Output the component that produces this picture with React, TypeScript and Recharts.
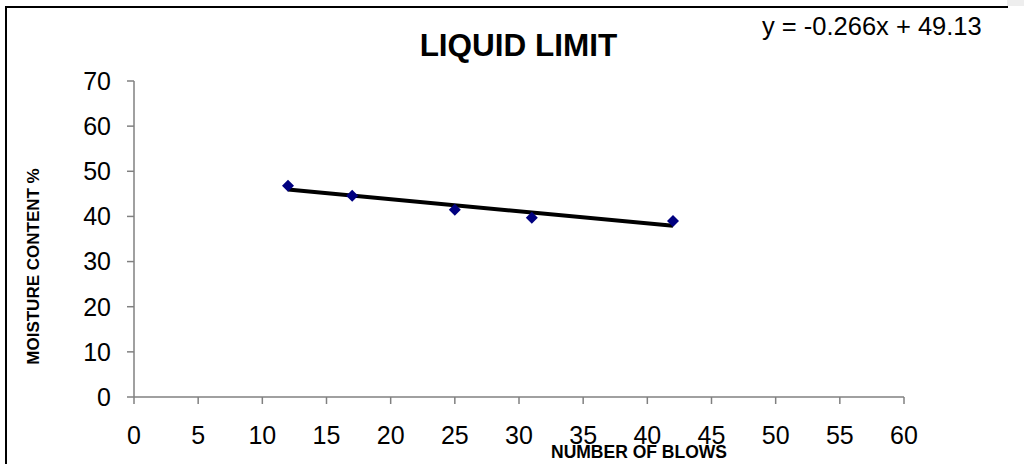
import { ComposedChart, Line, Scatter, XAxis, YAxis } from "recharts";

// Liquid limit test: moisture content against number of blows, with the
// linear trend line Excel fitted (y = -0.266x + 49.13).

const BLOWS = [12, 17, 25, 31, 42];
const MOISTURE = [46.8, 44.6, 41.5, 39.7, 39.0];

const TREND_BLOWS = [12, 42];
const TREND_MOISTURE = [45.94, 37.96];

const X_TICKS = [0, 5, 10, 15, 20, 25, 30, 35, 40, 45, 50, 55, 60];
const Y_TICKS = [0, 10, 20, 30, 40, 50, 60, 70];

const FONT = "'Liberation Sans', Arial, sans-serif";
const AXIS = "#808080";
const MARKER = "#000080";

const points = BLOWS.map((x, i) => ({ x, y: MOISTURE[i] }));
const trend = TREND_BLOWS.map((x, i) => ({ x, y: TREND_MOISTURE[i] }));

function Diamond(props: { cx?: number; cy?: number }) {
  const { cx, cy } = props;
  if (cx == null || cy == null) return null;
  const r = 6;
  return (
    <polygon
      points={`${cx},${cy - r} ${cx + r},${cy} ${cx},${cy + r} ${cx - r},${cy}`}
      fill={MARKER}
    />
  );
}

export default function App() {
  const tick = { fill: "#000", fontSize: 25, fontFamily: FONT };
  return (
    <div style={{ position: "absolute", left: 0, top: 0, width: 1024, height: 464, background: "#fff", overflow: "hidden" }}>
      {/* chart frame: only the top and left edges fall inside the crop */}
      <div
        style={{
          position: "absolute",
          left: 5,
          top: 6,
          width: 1001,
          height: 470,
          borderTop: "2px solid #000",
          borderLeft: "2px solid #000",
        }}
      />
      <div style={{ position: "absolute", left: 1007, top: 0, width: 17, height: 6, background: "#eeeeee" }} />

      <div style={{ position: "absolute", left: 0, top: 0 }}>
        <ComposedChart
          width={1024}
          height={464}
          margin={{ top: 81, right: 120, bottom: 27, left: 74 }}
          style={{ fontFamily: FONT }}
        >
          <XAxis
            type="number"
            dataKey="x"
            domain={[0, 60]}
            ticks={X_TICKS}
            interval={0}
            height={40}
            tickSize={7}
            tickMargin={22}
            tick={tick}
            stroke={AXIS}
            strokeWidth={1.5}
            allowDataOverflow
          />
          <YAxis
            type="number"
            dataKey="y"
            domain={[0, 70]}
            ticks={Y_TICKS}
            interval={0}
            width={60}
            tickSize={7}
            tickMargin={16}
            tick={tick}
            stroke={AXIS}
            strokeWidth={1.5}
            allowDataOverflow
          />
          <Scatter data={points} dataKey="y" shape={<Diamond />} isAnimationActive={false} />
          <Line
            data={trend}
            dataKey="y"
            type="linear"
            stroke="#000"
            strokeWidth={4}
            dot={false}
            activeDot={false}
            isAnimationActive={false}
          />
        </ComposedChart>
      </div>

      <svg
        width={1024}
        height={464}
        style={{ position: "absolute", left: 0, top: 0, pointerEvents: "none", fontFamily: FONT }}
      >
        <text x={518.5} y={56} textAnchor="middle" fontSize={31.5} fontWeight="bold" fill="#000">
          LIQUID LIMIT
        </text>
        <text x={762} y={35} fontSize={25.5} fill="#000">
          y = -0.266x + 49.13
        </text>
        <text x={639} y={458} textAnchor="middle" fontSize={17.5} fontWeight="bold" fill="#000">
          NUMBER OF BLOWS
        </text>
        <text
          transform="translate(39, 266.5) rotate(-90)"
          textAnchor="middle"
          fontSize={17}
          fontWeight="bold"
          fill="#000"
        >
          MOISTURE CONTENT %
        </text>
      </svg>
    </div>
  );
}
